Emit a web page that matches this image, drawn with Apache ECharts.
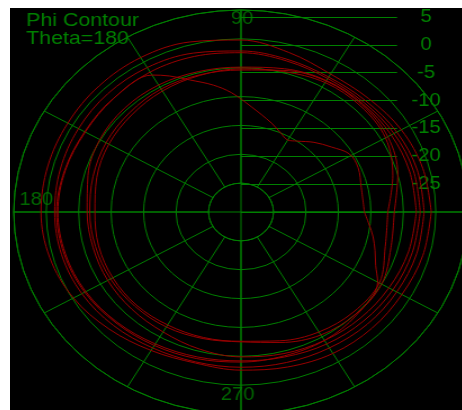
<!DOCTYPE html>
<html>
<head>
<meta charset="utf-8">
<script src="https://cdn.jsdelivr.net/npm/echarts@6/dist/echarts.min.js"></script>
<style>
  html, body { margin:0; padding:0; background:#fff; width:462px; height:410px; overflow:hidden; }
  #box { position:absolute; left:10px; top:8px; width:452px; height:402px; background:#000; overflow:hidden; }
  #c { position:absolute; left:11px; top:0; width:440px; height:402px; transform:scaleX(1.125); transform-origin:220px 0; }
</style>
</head>
<body>
<div id="box"><div id="c"></div></div>
<script>
// ---- data (dB vs phi, theta = 180) ----
const titleLines = ['Phi Contour', 'Theta=180'];
const angleTicks = [90, 180, 270];
const radialTicks = [5, 0, -5, -10, -15, -20, -25];

const angles = [0, 15, 30, 45, 60, 75, 90, 105, 120, 135, 150, 165, 180, 195, 210, 225, 240, 255, 270, 285, 300, 315, 330, 345, 360];
const curveA = [-0.7, -1.0, -1.5, -2.2, -2.4, -1.4, -0.2, 0.5, 0.9, 0.9, 0.8, 0.8, 0.8, 0.5, -0.2, -1.3, -2.3, -2.9, -2.6, -2.2, -1.7, -1.5, -1.4, -1.0, -0.7];
const curveB = [-1.8, -1.9, -2.3, -2.8, -3.0, -2.6, -2.1, -1.5, -1.1, -1.0, -1.1, -1.2, -1.3, -1.4, -1.7, -2.2, -2.8, -3.1, -3.1, -3.0, -2.8, -2.5, -2.3, -2.0, -1.8];
const curveC = [-2.4, -2.5, -2.8, -3.2, -3.3, -2.9, -2.4, -2.1, -2.0, -2.2, -2.3, -2.0, -1.8, -2.0, -2.4, -3.0, -3.6, -4.0, -4.2, -4.0, -3.6, -3.3, -3.0, -2.7, -2.4];
const curveD = [-3.0, -3.1, -3.3, -3.5, -3.7, -4.3, -4.9, -4.8, -4.6, -4.6, -4.9, -5.6, -6.3, -6.4, -6.3, -6.2, -6.0, -5.4, -4.9, -4.6, -4.3, -4.0, -3.7, -3.3, -3.0];
const curveE = [-6.4, -5.0, -3.9, -3.7, -3.8, -4.6, -5.4, -5.4, -5.4, -5.7, -6.0, -6.4, -6.7, -6.8, -6.8, -6.9, -7.0, -7.3, -7.5, -6.6, -5.4, -5.0, -5.0, -6.1, -6.4];
const curveF = [-7.4, -5.8, -4.3, -4.0, -4.1, -4.8, -5.2, -5.5, -5.8, -6.2, -6.5, -7.0, -7.5, -7.3, -7.2, -7.2, -7.4, -7.5, -7.6, -6.9, -6.0, -5.5, -5.4, -7.0, -7.4];

const dipAngles = [0, 13, 23, 31, 39, 47, 55, 60, 66, 73, 85, 94, 101, 109, 115, 120, 135, 150, 165, 180, 195, 210, 225, 240, 255, 270, 285, 300, 315, 330, 336, 342, 348, 354, 360];
const curveDip  = [-11, -11, -10.4, -10.5, -12.1, -13.5, -15.0, -15.6, -15.0, -13.9, -11.7, -9.3, -7.6, -5.8, -4.0, -2.6, -2.2, -2.2, -1.9, -1.6, -1.8, -2.2, -2.8, -3.3, -3.7, -4.0, -4.2, -4.3, -4.8, -5.7, -7.3, -8.3, -9.2, -10.2, -11];

// ---- layout / style ----
const GREEN = '#008000', RED = '#990000';
const FONT = "'Liberation Sans', Arial, sans-serif";
const CX = 220, CY = 204, R = 202;
const R_MIN = -30, R_MAX = 5;
const innerR = R * (radialTicks[radialTicks.length - 1] - R_MIN) / (R_MAX - R_MIN);
const labelOffsets = { 90: [1, 9.5], 180: [20, -11.5], 270: [-3, -19] };

const chart = echarts.init(document.getElementById('c'), null, { renderer: 'canvas' });

const lineSeries = (vals, angs, name) => ({
  name: name, type: 'line', coordinateSystem: 'polar', polarIndex: 0,
  showSymbol: false, smooth: 0.35, silent: true,
  lineStyle: { color: RED, width: 1 },
  data: angs.map((a, i) => [vals[i], a])
});

const series = [curveA, curveB, curveC, curveD, curveE, curveF].map((v, k) => lineSeries(v, angles, 'c' + k));
series.push(lineSeries(curveDip, dipAngles, 'dip'));
series.push({
  type: 'scatter', coordinateSystem: 'polar', polarIndex: 1, symbolSize: 0, silent: true,
  data: angleTicks.map(a => ({ value: [R_MAX, a], name: String(a), label: { offset: labelOffsets[a] } })),
  label: { show: true, position: 'inside', formatter: '{b}', color: GREEN, fontSize: 18, fontFamily: FONT }
});

chart.setOption({
  animation: false,
  backgroundColor: 'transparent',
  title: {
    text: titleLines.join('\n'), left: 29, top: 4, padding: 0,
    textStyle: { color: GREEN, fontSize: 19, fontWeight: 'normal', fontFamily: FONT, lineHeight: 18 }
  },
  polar: [
    { center: [CX, CY], radius: [innerR, R] },
    { center: [CX, CY], radius: [0, R] }
  ],
  angleAxis: [
    { polarIndex: 0, type: 'value', min: 0, max: 360, interval: 30, startAngle: 0, clockwise: false,
      axisLine: { show: true, lineStyle: { color: GREEN, width: 1 } },
      axisTick: { show: false }, axisLabel: { show: false },
      splitLine: { show: true, lineStyle: { color: GREEN, width: 1 } } },
    { polarIndex: 1, type: 'value', min: 0, max: 360, interval: 90, startAngle: 0, clockwise: false,
      axisLine: { show: false }, axisTick: { show: false }, axisLabel: { show: false },
      splitLine: { show: true, lineStyle: { color: GREEN, width: 1 } } }
  ],
  radiusAxis: [
    { polarIndex: 0, type: 'value', min: radialTicks[radialTicks.length - 1], max: R_MAX, interval: 5,
      axisLine: { show: false }, axisTick: { show: false }, axisLabel: { show: false },
      splitLine: { show: true, lineStyle: { color: GREEN, width: 1 } } },
    { polarIndex: 1, type: 'value', min: R_MIN, max: R_MAX,
      axisLine: { show: false }, axisTick: { show: false }, axisLabel: { show: false },
      splitLine: { show: false } }
  ],
  grid: { left: CX, top: CY - R, width: 138.7, height: R },
  xAxis: { type: 'value', min: 0, max: 1, show: false },
  yAxis: {
    type: 'value', position: 'right', min: R_MIN, max: R_MAX, interval: 5,
    axisLine: { show: false }, axisTick: { show: false },
    splitLine: { show: true, lineStyle: { color: GREEN, width: 1 } },
    axisLabel: {
      color: GREEN, fontSize: 18, fontFamily: FONT, align: 'center', margin: 25.7,
      padding: [19, 0, 0, 0],
      formatter: v => radialTicks.indexOf(v) >= 0 ? String(v) : ''
    }
  },
  series: series
});
</script>
</body>
</html>
